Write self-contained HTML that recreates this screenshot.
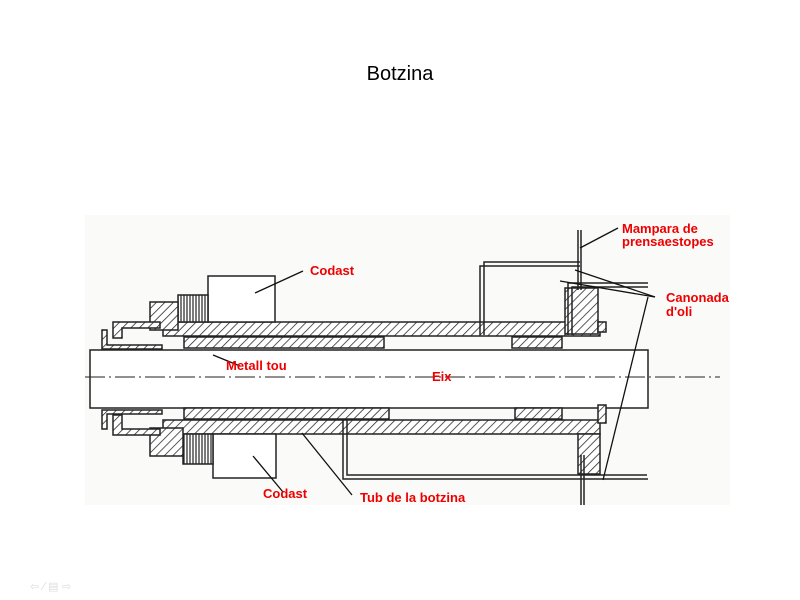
<!DOCTYPE html>
<html><head><meta charset="utf-8"><style>
body{margin:0;background:#fff;width:800px;height:600px;overflow:hidden}
svg{display:block}
.l{font-family:"Liberation Sans",sans-serif;font-weight:bold;fill:#e00;font-size:13px}
</style></head><body>
<svg width="800" height="600" viewBox="0 0 800 600">
<defs>
<pattern id="h" width="6" height="6" patternUnits="userSpaceOnUse" patternTransform="rotate(45)">
<rect width="6" height="6" fill="#fff"/><line x1="0" y1="0" x2="0" y2="6" stroke="#222" stroke-width="1.5"/></pattern>
<pattern id="v" width="3" height="3" patternUnits="userSpaceOnUse">
<rect width="3" height="3" fill="#fff"/><line x1="1" y1="0" x2="1" y2="3" stroke="#222" stroke-width="1.2"/></pattern>
</defs>
<rect x="85" y="215" width="645" height="290" fill="#fafaf8"/>
<text x="400" y="80" text-anchor="middle" font-family="Liberation Sans,sans-serif" font-size="20">Botzina</text>
<g stroke="#222" stroke-width="1.5" fill="none">
<rect x="90" y="350" width="558" height="58" fill="#fff"/>
<line x1="85" y1="377" x2="720" y2="377" stroke-dasharray="20,4,2,4" stroke-width="1"/>
<rect x="163" y="322" width="437" height="14" fill="url(#h)"/>
<rect x="184" y="337" width="200" height="11" fill="url(#h)"/>
<rect x="512" y="337" width="50" height="11" fill="url(#h)"/>
<rect x="208" y="276" width="67" height="46" fill="#fff"/>
<rect x="178" y="295" width="30" height="27" fill="url(#v)"/>
<path d="M150 302h28v28h-28z" fill="url(#h)"/>
<path d="M113 322h47v6h-38v10h-9z" fill="url(#h)"/>
<path d="M102 330h5v15h55v4h-60z" fill="url(#h)"/>
<rect x="565" y="288" width="33" height="46" fill="url(#h)"/>
<path d="M598 322h8v10h-8z" fill="url(#h)"/>
<rect x="163" y="420" width="437" height="14" fill="url(#h)"/>
<rect x="184" y="408" width="205" height="11" fill="url(#h)"/>
<rect x="515" y="408" width="47" height="11" fill="url(#h)"/>
<rect x="213" y="434" width="63" height="44" fill="#fff"/>
<rect x="183" y="434" width="30" height="30" fill="url(#v)"/>
<path d="M150 428h33v28h-33z" fill="url(#h)"/>
<path d="M113 415h9v14h38v6h-47z" fill="url(#h)"/>
<path d="M102 410h60v4h-55v15h-5z" fill="url(#h)"/>
<rect x="578" y="434" width="22" height="40" fill="url(#h)"/>
<path d="M598 405h8v18h-8z" fill="url(#h)"/>
<path d="M484 335V262h96M480 335V266h100"/>
<path d="M568 335V283h80M572 335V287h76"/>
<path d="M347 420v55h300M343 420v59h305"/>
<line x1="578" y1="230" x2="578" y2="290"/>
<line x1="581" y1="230" x2="581" y2="290"/>
<line x1="581" y1="455" x2="581" y2="505"/>
<line x1="584" y1="455" x2="584" y2="505"/>
</g>
<g stroke="#111" stroke-width="1.3">
<line x1="255" y1="293" x2="303" y2="271"/>
<line x1="213" y1="355" x2="240" y2="366"/>
<line x1="253" y1="456" x2="283" y2="492"/>
<line x1="302" y1="433" x2="352" y2="495"/>
<line x1="580" y1="248" x2="618" y2="228"/>
<line x1="560" y1="281" x2="655" y2="297"/>
<line x1="575" y1="270" x2="655" y2="297"/>
<line x1="648" y1="297" x2="603" y2="480"/>
</g>
<text class="l" x="310" y="275">Codast</text>
<text class="l" x="226" y="370">Metall tou</text>
<text class="l" x="432" y="381">Eix</text>
<text class="l" x="263" y="498">Codast</text>
<text class="l" x="360" y="502">Tub de la botzina</text>
<text class="l" x="622" y="233">Mampara de</text>
<text class="l" x="622" y="246">prensaestopes</text>
<text class="l" x="666" y="302">Canonada</text>
<text class="l" x="666" y="316">d'oli</text>
<text x="30" y="590" font-size="11" fill="#ddd" font-family="DejaVu Sans,sans-serif">⇦ ⁄ ▤ ⇨</text>
</svg>
</body></html>
